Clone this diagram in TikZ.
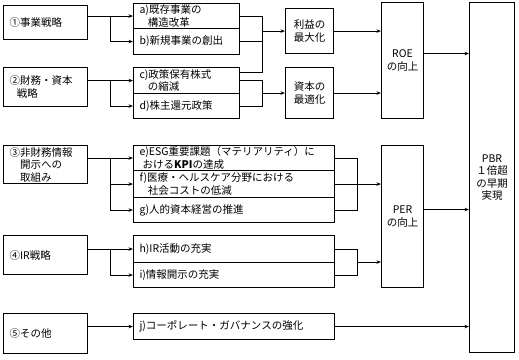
\documentclass[tikz,border=0pt]{standalone}
\usepackage{fontspec}
\setmainfont{Noto Sans CJK JP}
\usetikzlibrary{arrows.meta,calc}

\begin{document}
\begin{tikzpicture}[
        x=1pt, y=-1pt,
        box/.style={draw, line width=1.1pt, anchor=north west, inner xsep=6pt, inner ysep=0pt,
            align=left, font=\fontsize{10.5pt}{12.5pt}\selectfont},
        goal/.style={box, inner xsep=2pt, align=center},
        link/.style={line width=0.8pt},
        conn/.style={link, -{Stealth[length=4.5pt, width=3.5pt]}}
    ]
    \useasboundingbox (0,0) rectangle (519,359);

    \node[box, minimum width=84pt, minimum height=34pt, text width=72pt] (s1) at (3,5) {①事業戦略};
    \node[box, minimum width=84pt, minimum height=39pt, text width=72pt] (s2) at (3,67) {②財務・資本\\\hspace*{0.7em}戦略};
    \node[box, minimum width=84pt, minimum height=38pt, text width=72pt] (s3) at (3,145) {③非財務情報\\\hspace*{1em}開示への\\\hspace*{1em}取組み};
    \node[box, minimum width=84pt, minimum height=39pt, text width=72pt] (s4) at (3,235) {④IR戦略};
    \node[box, minimum width=84pt, minimum height=40pt, text width=72pt] (s5) at (3,313) {⑤その他};

    \node[box, minimum width=106pt, minimum height=25pt, text width=94pt] (a) at (133,3) {a)既存事業の\\\hspace*{0.8em}構造改革};
    \node[box, minimum width=106pt, minimum height=26pt, text width=94pt] (b) at (133,28) {b)新規事業の創出};
    \node[box, minimum width=106pt, minimum height=26pt, text width=94pt] (c) at (133,67) {c)政策保有株式\\\hspace*{0.8em}の縮減};
    \node[box, minimum width=106pt, minimum height=25pt, text width=94pt] (d) at (133,93) {d)株主還元政策};
    \node[box, minimum width=201pt, minimum height=25pt, text width=189pt] (e) at (133,145) {e)ESG重要課題（マテリアリティ）に\\\hspace*{0.3em}おける\textbf{KPI}の達成};
    \node[box, minimum width=201pt, minimum height=27pt, text width=189pt] (f) at (133,170) {f)医療・ヘルスケア分野における\\\hspace*{0.8em}社会コストの低減};
    \node[box, minimum width=201pt, minimum height=25pt, text width=189pt] (g) at (133,197) {g)人的資本経営の推進};
    \node[box, minimum width=201pt, minimum height=27pt, text width=189pt] (h) at (133,235) {h)IR活動の充実};
    \node[box, minimum width=201pt, minimum height=25pt, text width=189pt] (i) at (133,262) {i)情報開示の充実};
    \node[box, minimum width=201pt, minimum height=26pt, text width=189pt] (j) at (133,313) {j)コーポレート・ガバナンスの強化};

    \node[goal, minimum width=48pt, minimum height=45pt, text width=44pt] (rieki) at (285,8) {利益の\\最大化};
    \node[goal, minimum width=48pt, minimum height=51pt, text width=44pt] (shihon) at (285,67) {資本の\\最適化};
    \node[goal, minimum width=42pt, minimum height=116pt, text width=38pt] (roe) at (381,2) {ROE\\の向上};
    \node[goal, minimum width=42pt, minimum height=142pt, text width=38pt] (per) at (381,145) {PER\\の向上};
    \node[goal, minimum width=45pt, minimum height=350pt, text width=41pt] (pbr) at (469,2) {PBR\\１倍超\\の早期\\実現};

    \coordinate (jl) at (110,0);
    \coordinate (ja) at (262,0);
    \coordinate (jb) at (357,0);
    \coordinate (cu) at ([yshift=-5pt]c.north east);
    \coordinate (roeout) at ([yshift=7pt]roe.east);
    \coordinate (perout) at ([yshift=7pt]per.east);
    \coordinate (hi) at ($(jb |- h.east)!0.5!(jb |- i.east)$);

    \draw[conn] (s1.east |- a.west) -- (a.west);
    \draw[conn] (jl |- a.west) -- (jl |- b.west) -- (b.west);
    \draw[conn] (s2.east |- c.west) -- (c.west);
    \draw[conn] (jl |- c.west) -- (jl |- d.west) -- (d.west);
    \draw[conn] (s3.east |- e.west) -- (e.west);
    \draw[conn] (jl |- e.west) -- (jl |- g.west) -- (g.west);
    \draw[conn] (jl |- f.west) -- (f.west);
    \draw[conn] (s4.east |- h.west) -- (h.west);
    \draw[conn] (jl |- h.west) -- (jl |- i.west) -- (i.west);
    \draw[conn] (s5.east |- j.west) -- (j.west);

    \draw[link] (a.east) -- (ja |- a.east) -- (ja |- cu) -- (cu);
    \draw[link] (b.east) -- (ja |- b.east);
    \draw[conn] (ja |- rieki.west) -- (rieki.west);
    \draw[link] (c.east) -- (ja |- c.east) -- (ja |- d.east) -- (d.east);
    \draw[conn] (ja |- shihon.west) -- (shihon.west);
    \draw[conn] (rieki.east) -- (roe.west |- rieki.east);
    \draw[conn] (shihon.east) -- (roe.west |- shihon.east);
    \draw[conn] (roeout) -- (pbr.west |- roeout);

    \draw[link] (e.east) -- (jb |- e.east) -- (jb |- g.east) -- (g.east);
    \draw[conn] (f.east) -- (per.west |- f.east);
    \draw[link] (h.east) -- (jb |- h.east) -- (jb |- i.east) -- (i.east);
    \draw[conn] (hi) -- (per.west |- hi);
    \draw[conn] (perout) -- (pbr.west |- perout);
    \draw[conn] (j.east) -- (pbr.west |- j.east);

\end{tikzpicture}
\end{document}
